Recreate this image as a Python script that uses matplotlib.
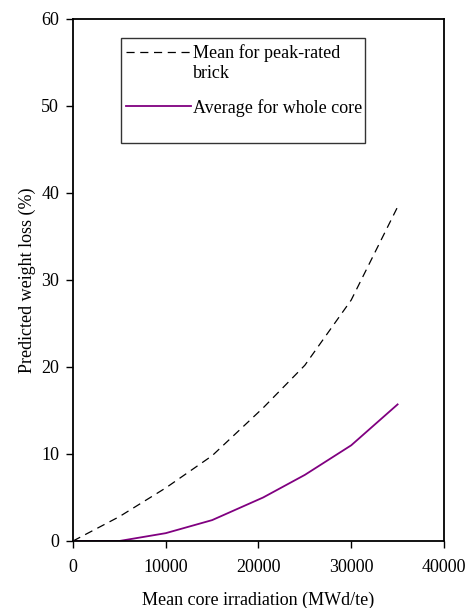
import matplotlib.pyplot as plt
from matplotlib.patches import Rectangle
from matplotlib.legend_handler import HandlerLine2D

# Data
irradiation = [0, 5000, 10000, 15000, 20500, 25000, 30000, 35000]
peak_brick = [0, 2.8, 6.1, 9.8, 15.3, 20.2, 27.7, 38.4]
whole_core = [0, 0, 0.9, 2.4, 5.0, 7.6, 11.0, 15.7]

x_ticks = [0, 10000, 20000, 30000, 40000]
y_ticks = [0, 10, 20, 30, 40, 50, 60]

plt.rcParams['font.family'] = 'Liberation Serif'


class FirstLineHandler(HandlerLine2D):
    # put the legend line level with the first text line
    def __init__(self, shift, **kw):
        super().__init__(**kw)
        self.shift = shift

    def create_artists(self, legend, orig_handle, xdescent, ydescent, width,
                       height, fontsize, trans):
        return super().create_artists(legend, orig_handle, xdescent,
                                      ydescent - 2 * self.shift, width, height,
                                      fontsize, trans)


fig = plt.figure(figsize=(4.67, 6.08), dpi=100)
ax = fig.add_axes([0.1563, 0.1102, 0.7944, 0.8586])

l1, = ax.plot(irradiation, peak_brick, color='black', lw=0.9, dashes=(6.5, 4.5),
              label='Mean for peak-rated\nbrick')
l2, = ax.plot(irradiation, whole_core, color='#800080', lw=1.3,
              label='Average for whole core')

ax.set_xlim(0, 40000)
ax.set_ylim(0, 60)
ax.set_xticks(x_ticks)
ax.set_yticks(y_ticks)
ax.tick_params(direction='out', length=5, width=1, labelsize=13)
ax.tick_params(axis='x', pad=8)
ax.tick_params(axis='y', pad=5)
for s in ax.spines.values():
    s.set_linewidth(1.3)

ax.set_xlabel('Mean core irradiation (MWd/te)', fontsize=13, labelpad=11)
ax.set_ylabel('Predicted weight loss (%)', fontsize=13, labelpad=4)

# legend frame drawn separately to match the boxed area
ax.add_patch(Rectangle((0.129, 0.7625), 0.658, 0.2011, transform=ax.transAxes,
                       fill=False, edgecolor='#333333', lw=1, zorder=5))
ax.legend(loc='upper left', bbox_to_anchor=(0.143, 0.952), frameon=False,
          fontsize=13, handlelength=3.6, handletextpad=0.1,
          labelspacing=0.95, borderpad=0, borderaxespad=0,
          handler_map={l1: FirstLineHandler(shift=7.7)})

fig.savefig('out.png', dpi=100)
